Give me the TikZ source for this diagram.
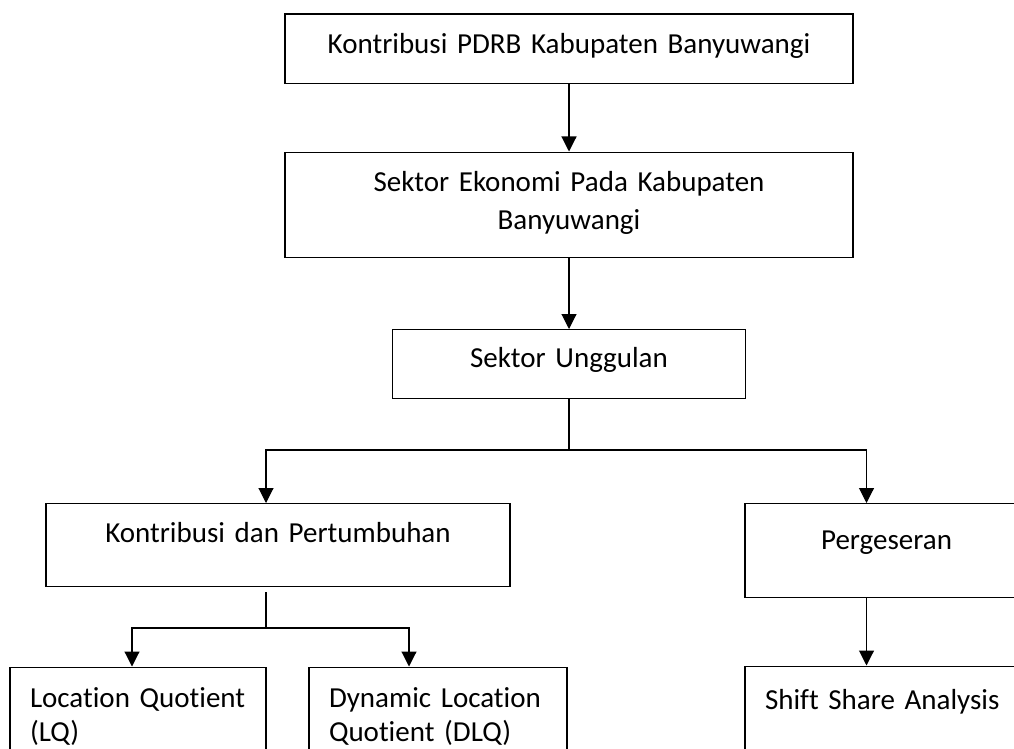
\documentclass[tikz,border=0pt]{standalone}
\usepackage{fontspec}
\setmainfont[Ligatures=NoCommon]{Carlito}
\usetikzlibrary{arrows.meta}

\begin{document}
\begin{tikzpicture}[x=1pt,y=-1pt]
\tikzset{box/.style = {draw, line width=1.2pt, anchor=north, inner sep=0pt, align=center, font=\fontsize{29}{38}\selectfont}}
\tikzset{leftbox/.style = {box, inner xsep=20pt, align=left, font=\fontsize{29}{34}\selectfont}}
\tikzset{edge/.style = {-{Triangle[length=15pt,width=15pt]}, line width=1.1pt}}
\useasboundingbox (0,0) rectangle (1014,749);
\clip (0,0) rectangle (1014,749);
\node[box, text width=568pt, text height=39pt, text depth=30.5pt](pdrb) at (569, 13.5) {Kontribusi PDRB Kabupaten Banyuwangi};
\node[box, text width=568pt, text height=39pt, text depth=66.5pt](ekonomi) at (569, 151.5) {Sektor Ekonomi Pada Kabupaten\\Banyuwangi};
\node[box, text width=353pt, text height=38pt, text depth=31pt](unggulan) at (569, 329) {Sektor Unggulan};
\node[box, text width=464pt, text height=39pt, text depth=44pt](kontribusi) at (278, 503) {Kontribusi dan Pertumbuhan};
\node[box, text width=283pt, text height=46pt, text depth=48pt](pergeseran) at (886.5, 503) {Pergeseran};
\node[leftbox, text width=216pt, text height=40pt, text depth=100pt](lq) at (138, 666.5) {Location~Quotient\\(LQ)};
\node[leftbox, text width=218pt, text height=40pt, text depth=100pt](dlq) at (438, 666.5) {Dynamic~Location\\Quotient (DLQ)};
\node[leftbox, text width=243pt, text height=43pt, text depth=100pt](ssa) at (886.5, 665.5) {Shift Share Analysis};
\coordinate (cabang) at (569, 450);
\coordinate (cabangbawah) at (266, 628);
\draw[edge] (pdrb) -- (ekonomi);
\draw[edge] (ekonomi) -- (unggulan);
\draw[line width=1.1pt] (unggulan) -- (cabang);
\draw[edge] (cabang) -| ([xshift=-12pt]kontribusi.north);
\draw[edge] (cabang) -| ([xshift=-20pt]pergeseran.north);
\draw[line width=1.1pt, shorten <=5pt] ([xshift=-12pt]kontribusi.south) -- (cabangbawah);
\draw[edge] (cabangbawah) -| ([xshift=-6pt]lq.north);
\draw[edge] (cabangbawah) -| ([xshift=-29pt]dlq.north);
\draw[edge] ([xshift=-20pt]pergeseran.south) -- ([xshift=-20pt]ssa.north);
\end{tikzpicture}
\end{document}
